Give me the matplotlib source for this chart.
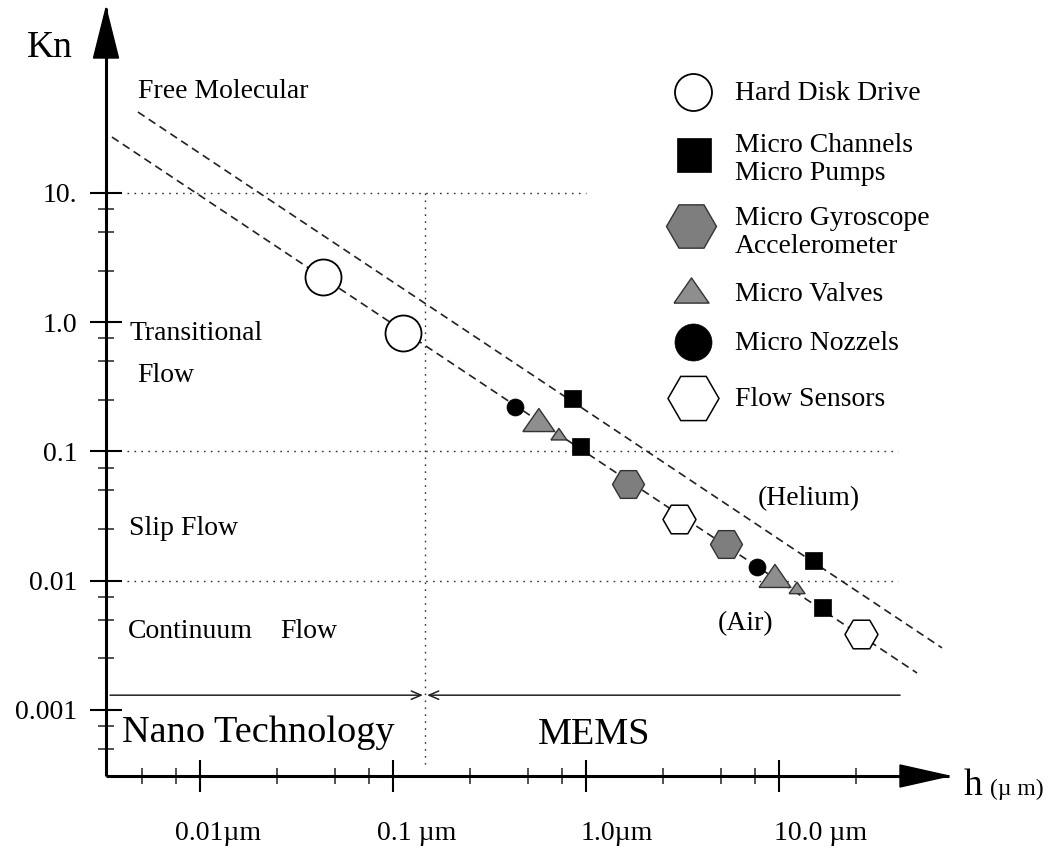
import matplotlib
matplotlib.use("Agg")
import matplotlib.pyplot as plt
import matplotlib.transforms as mtransforms
from matplotlib.lines import Line2D
from matplotlib.patches import Polygon
from matplotlib.ticker import FixedLocator, NullFormatter

plt.rcParams['font.family'] = ['Liberation Serif', 'DejaVu Serif']

# ---- data: gap size h (µm) and Knudsen number Kn ----
hdd_h = [0.0433, 0.113]
hdd_kn = [2.24, 0.826]
channel_h = [0.845, 0.931, 15.0, 16.7]
channel_kn = [0.259, 0.110, 0.0145, 0.00626]
gyro_h = [1.65, 5.31]
gyro_kn = [0.0561, 0.0192]
valve_h = [0.570, 0.724, 9.53, 12.4]
valve_kn = [0.175, 0.136, 0.01088, 0.00879]
nozzle_h = [0.428, 7.69]
nozzle_kn = [0.221, 0.01277]
sensor_h = [3.03, 26.6]
sensor_kn = [0.0300, 0.00387]

# Kn = lambda / h for air and helium (end points of each line)
air_h = [0.0035, 51.9]
air_kn = [27.1, 0.00193]
helium_h = [0.00477, 69.9]
helium_kn = [42.3, 0.00302]

# flow-regime boundaries and the Nano / MEMS split
regime_kn = [10.0, 0.1, 0.01]
regime_h_start = [0.0042, 0.0042, 0.0042]
regime_h_end = [1.0, 41.4, 41.4]
split_h = 0.147
split_kn = [10.0, 0.00036]
bar_kn = 0.0013
bar_h = [0.00342, 42.4]

xtick_vals = [0.01, 0.1, 1.0, 10.0]
xtick_labels = ['0.01µm', '0.1 µm', '1.0µm', '10.0 µm']
ytick_vals = [0.001, 0.01, 0.1, 1.0, 10.0]
ytick_labels = ['0.001', '0.01', '0.1', '1.0', '10.']

legend_labels = ['Hard Disk Drive', 'Micro Channels\nMicro Pumps',
                 'Micro Gyroscope\nAccelerometer', 'Micro Valves',
                 'Micro Nozzels', 'Flow Sensors']

# ---- figure layout ----
W, H = 1057, 849
DPI = 100
PT = 72.0 / DPI          # points per pixel

fig = plt.figure(figsize=(W / DPI, H / DPI), dpi=DPI)
ax_l, ax_r, ax_t, ax_b = 106, 949, 8, 776
ax = fig.add_axes([ax_l / W, 1 - ax_b / H, (ax_r - ax_l) / W, (ax_b - ax_t) / H])
ax.set_xscale('log')
ax.set_yscale('log')
ax.set_xlim(0.00326, 76.0)
ax.set_ylim(0.000308, 270.0)
ax.patch.set_visible(False)

for s in ('top', 'right'):
    ax.spines[s].set_visible(False)
for s in ('left', 'bottom'):
    ax.spines[s].set_linewidth(2.2)
    ax.spines[s].set_capstyle('butt')

# arrow heads on both axes
aw, ah = ax_r - ax_l, ax_b - ax_t
ax.add_patch(Polygon([(0, 1), (-12.5 / aw, 1 - 50 / ah), (12.5 / aw, 1 - 50 / ah)],
                     closed=True, transform=ax.transAxes, color='black', clip_on=False))
ax.add_patch(Polygon([(1, 0), (1 - 49 / aw, 11 / ah), (1 - 49 / aw, -11 / ah)],
                     closed=True, transform=ax.transAxes, color='black', clip_on=False))

# ticks
ax.yaxis.set_major_locator(FixedLocator(ytick_vals))
ax.set_yticklabels(ytick_labels, fontsize=20)
ymin = []
for dec in [0.001, 0.01, 0.1, 1.0]:
    ymin += [dec * 2.5, dec * 5, dec * 7.5]
ymin = [0.0005, 0.00075] + ymin
ax.yaxis.set_minor_locator(FixedLocator(ymin))
ax.yaxis.set_minor_formatter(NullFormatter())

ax.xaxis.set_major_locator(FixedLocator(xtick_vals))
ax.set_xticklabels([''] * len(xtick_vals))
xmin = [0.005, 0.0075]
for dec in [0.01, 0.1, 1.0]:
    xmin += [dec * 2.5, dec * 5, dec * 7.5]
xmin += [25.0]
ax.xaxis.set_minor_locator(FixedLocator(xmin))
ax.xaxis.set_minor_formatter(NullFormatter())

ax.tick_params(which='major', direction='inout', length=23, width=1.5, color='black')
ax.tick_params(which='minor', direction='inout', length=11.5, width=1.1, color='#222222')
ax.tick_params(axis='y', which='major', pad=9)

# x tick labels, set slightly to the right of each tick
xlab_dx = [-25, -16, -5, -5]
xtrans = mtransforms.blended_transform_factory(ax.transData, ax.transAxes)
for v, lab, dx in zip(xtick_vals, xtick_labels, xlab_dx):
    ax.text(v, 0, lab, fontsize=20, ha='left', va='baseline',
            transform=xtrans + mtransforms.ScaledTranslation(dx / DPI, -64 / DPI, fig.dpi_scale_trans))

# regime grid lines
for kn, h0, h1 in zip(regime_kn, regime_h_start, regime_h_end):
    ax.plot([h0, h1], [kn, kn], color='#333333', lw=1.0, ls=(0, (1.2, 3.8)), zorder=1)
ax.plot([split_h, split_h], split_kn, color='#333333', lw=1.0, ls=(0, (1.2, 3.8)), zorder=1)

# mean-free-path lines
dash = (0, (4.8, 3.0))
ax.plot(air_h, air_kn, color='#222222', lw=1.2, ls=dash, zorder=2)
ax.plot(helium_h, helium_kn, color='#222222', lw=1.2, ls=dash, zorder=2)

# Nano / MEMS scale bar
arrow_kw = dict(arrowstyle='->,head_length=0.7,head_width=0.3', lw=1.1, color='#222222',
                shrinkA=0, shrinkB=0)
ax.annotate('', xy=(split_h * 0.973, bar_kn), xytext=(bar_h[0], bar_kn), arrowprops=arrow_kw)
ax.annotate('', xy=(split_h * 1.022, bar_kn), xytext=(bar_h[1], bar_kn), arrowprops=arrow_kw)

# marker styles shared by the plot and the key
gray_hex = '#7e7e7e'
gray_tri = '#8e8e8e'
tri = [(-1, -0.72), (1, -0.72), (0, 0.72), (-1, -0.72)]
styles = [
    dict(marker='o', facecolor='white', edgecolor='black', linewidth=1.3),
    dict(marker='s', facecolor='black', edgecolor='black', linewidth=0.5),
    dict(marker='H', facecolor=gray_hex, edgecolor='#333333', linewidth=1.0),
    dict(marker=tri, facecolor=gray_tri, edgecolor='#333333', linewidth=1.0),
    dict(marker='o', facecolor='black', edgecolor='black', linewidth=0.5),
    dict(marker='H', facecolor='white', edgecolor='black', linewidth=1.1),
]

ax.scatter(hdd_h, hdd_kn, s=(36 * PT) ** 2, zorder=4, **styles[0])
ax.scatter(channel_h, channel_kn, s=(17 * PT) ** 2, zorder=4, **styles[1])
ax.scatter(gyro_h, gyro_kn, s=(32 * PT) ** 2, zorder=4, **styles[2])
valve_px = [32, 16, 32, 16]
ax.scatter(valve_h, valve_kn, s=[(p * PT) ** 2 for p in valve_px], zorder=4, **styles[3])
ax.scatter(nozzle_h, nozzle_kn, s=(17 * PT) ** 2, zorder=4, **styles[4])
ax.scatter(sensor_h, sensor_kn, s=(33 * PT) ** 2, zorder=4, **styles[5])

# key: symbol centres and baseline of each label's last line, in figure pixels (from top)
key_sym_xy = [(693, 92), (694, 155), (691, 226), (691, 290), (693, 342), (693, 398)]
key_sym_px = [37, 34, 50, 35, 37, 51]
key_text_y = [100, 180, 253, 301, 350, 406]
key_text_x = 735
for lab, (sx, sy), sp, ty, st in zip(legend_labels, key_sym_xy, key_sym_px, key_text_y, styles):
    fig.add_artist(Line2D([sx / W], [1 - sy / H], transform=fig.transFigure, ls='none',
                          marker=st['marker'], ms=sp * PT, mfc=st['facecolor'],
                          mec=st['edgecolor'], mew=st['linewidth']))
    fig.text(key_text_x / W, 1 - ty / H, lab, fontsize=20, ha='left', va='baseline',
             linespacing=1.15, multialignment='left')

# annotation text, placed in figure pixels (x from left, baseline y from top)
def ftext(x, y, s, size=20, **kw):
    fig.text(x / W, 1 - y / H, s, fontsize=size, ha='left', va='baseline', **kw)

ftext(27, 57, 'Kn', size=27)
ftext(138, 98, 'Free Molecular')
ftext(130, 340, 'Transitional')
ftext(137, 382, 'Flow')
ftext(129, 535, 'Slip Flow')
ftext(128, 638, 'Continuum')
ftext(280, 638, 'Flow')
ftext(122, 742, 'Nano Technology', size=27.5)
ftext(538, 744, 'MEMS', size=27.5)
ftext(758, 505, '(Helium)')
ftext(718, 630, '(Air)')
ftext(964, 795, 'h', size=27)
ftext(990, 795, '(µ m)', size=17)

fig.savefig('out.png', dpi=DPI)
